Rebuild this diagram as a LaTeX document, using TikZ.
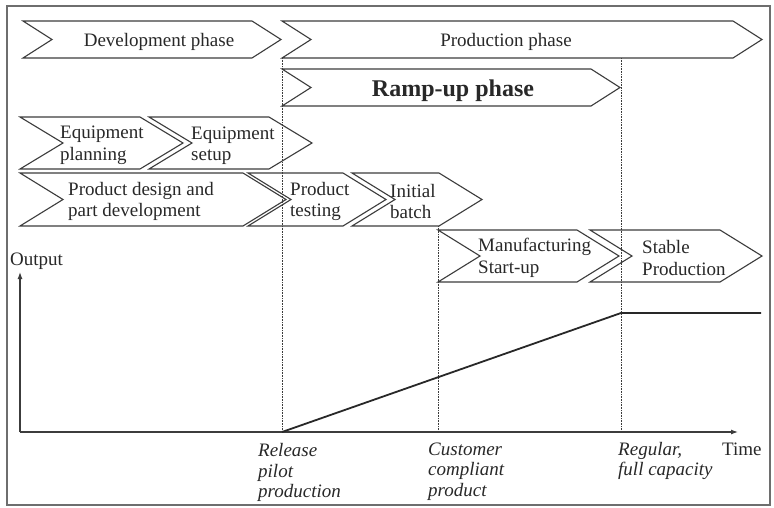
\documentclass[tikz,border=0pt]{standalone}
\usepackage{fontspec}
\setmainfont{Liberation Serif}
\usetikzlibrary{arrows.meta}
\definecolor{ink}{RGB}{40,40,40}
\definecolor{lineink}{RGB}{60,60,60}
\definecolor{frameink}{RGB}{110,110,110}
\newcommand\mychev[5]{\draw[chev] (#1,#3) -- ({#2-#5},#3) -- (#2,{(#3+#4)/2}) -- ({#2-#5},#4) -- (#1,#4) -- ({#1+#5},{(#3+#4)/2}) -- cycle;}
\tikzset{
  chev/.style={draw=lineink, line width=1.1pt, line join=miter},
  lbl/.style={inner sep=0pt, text=ink, font=\fontsize{19}{21.5}\selectfont},
  lbltwo/.style={lbl, align=left, anchor=west},
  ital/.style={lbl, align=left, anchor=west, font=\fontsize{19}{20.5}\selectfont\itshape},
  guide/.style={draw=lineink, line width=0.6pt, densely dotted},
  axis/.style={draw=lineink, line width=1.2pt, -{Latex[length=7pt,width=5pt]}},
  curve/.style={draw=ink, line width=1.8pt}
}
\begin{document}
\begin{tikzpicture}[x=1pt,y=-1pt]
\useasboundingbox (0,0) rectangle (774,507);
\fill[white] (0,0) rectangle (774,507);
\draw[frameink, line width=1.6pt] (7,6) rectangle (770,505);

% chevrons
\mychev{23}{281}{21}{58}{29}
\mychev{282}{762}{21}{58}{29}
\mychev{282}{620}{69}{106}{29}
\mychev{20}{183}{117}{169}{43}
\mychev{149}{312}{117}{169}{43}
\mychev{20}{286}{173}{226}{43}
\mychev{248}{386}{173}{226}{43}
\mychev{352}{482}{173}{226}{43}
\mychev{438}{619}{230}{282}{42}
\mychev{590}{762}{230}{282}{42}

% guide lines
\coordinate (g1t) at (282,58);  \coordinate (g1b) at (282,432);
\coordinate (g2t) at (438,226); \coordinate (g2b) at (438,432);
\coordinate (g3t) at (621,58);  \coordinate (g3b) at (621,432);
\draw[guide] (g1t) -- (g1b);
\draw[guide] (g2t) -- (g2b);
\draw[guide] (g3t) -- (g3b);

% axes
\coordinate (O) at (20,432);
\coordinate (ytip) at (20,272);
\coordinate (xtip) at (738,432);
\draw[axis] (O) -- (ytip);
\draw[axis] (O) -- (xtip);

% output curve
\coordinate (r0) at (282,432);
\coordinate (r1) at (621,313);
\coordinate (r2) at (761,313);
\draw[curve] (r0) -- (r1) -- (r2);

% labels
\node[lbl, anchor=base] (dev) at (159,46) {Development phase};
\node[lbl, anchor=base] (prod) at (506,46) {Production phase};
\node[lbl, anchor=base, font=\fontsize{24}{26}\selectfont\bfseries] (ramp) at (453,96) {Ramp-up phase};
\node[lbltwo] (eqp) at (60,145.5) {Equipment\\planning};
\node[lbltwo] (eqs) at (191,145.5) {Equipment\\setup};
\node[lbltwo] (pdd) at (68,201.5) {Product design and\\part development};
\node[lbltwo] (pt) at (290,201.5) {Product\\testing};
\node[lbltwo] (ib) at (390,201.5) {Initial\\batch};
\node[lbltwo] (ms) at (478,258) {Manufacturing\\Start-up};
\node[lbltwo] (sp) at (642,258) {Stable\\Production};
\node[lbl, anchor=base west] (out) at (10,265) {Output};
\node[lbl, anchor=base west] (time) at (722,455) {Time};
\node[ital] (rel) at (258,472.5) {Release\\pilot\\production};
\node[ital] (cus) at (428,471.5) {Customer\\compliant\\product};
\node[ital] (reg) at (618,461) {Regular,\\full capacity};
\end{tikzpicture}
\end{document}
